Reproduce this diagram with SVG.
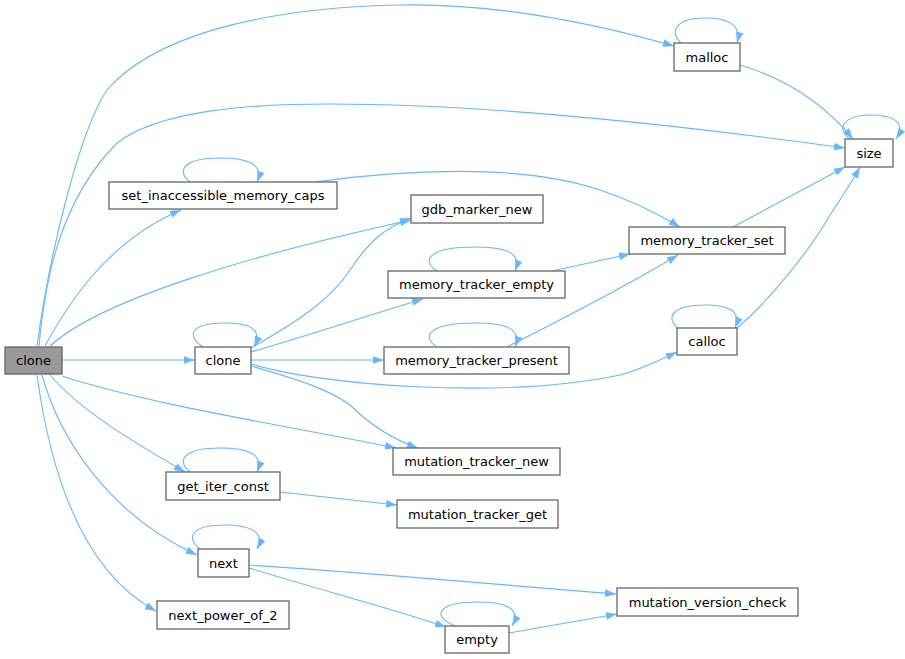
<svg xmlns="http://www.w3.org/2000/svg" width="905" height="659" viewBox="0 0 905 659">
<style>
.n rect{fill:#fff;stroke:#666;stroke-width:1.3}
.n.root rect{fill:#999}
.n text{font-family:"DejaVu Sans","Liberation Sans",sans-serif;font-size:13px;fill:#000;text-anchor:middle}
.e path{fill:none;stroke:#63b8ff;stroke-width:1.1;marker-end:url(#a)}
</style>
<defs>
<marker id="a" viewBox="0 0 10 7" markerWidth="11" markerHeight="8.5" refX="10" refY="3.5" markerUnits="userSpaceOnUse" orient="auto">
<path d="M0,0 L10,3.5 L0,7 z" fill="#63b8ff"/>
</marker>
</defs>
<rect width="905" height="659" fill="#fff"/>
<g id="edges" class="e">
<path d="M37,346 C50,250 80,130 107,90 C150,40 250,8 400,5 C500,3 600,25 674,46"/>
<path d="M39,346 C45,280 60,200 117,143 C160,110 250,104 330,104 C500,104 700,128 845,148"/>
<path d="M45,346 C70,300 110,240 181,210"/>
<path d="M50,346 C100,300 250,255 411,220"/>
<path d="M62,360 L195,360"/>
<path d="M62,376 C150,405 300,428 396,448"/>
<path d="M50,375 C80,410 130,440 185,472"/>
<path d="M42,375 C60,440 110,515 197,555"/>
<path d="M37,375 C50,470 80,570 156,611"/>
<path d="M203,347 C185,335 192,323 225,323 C252,323 262,330 254,347"/>
<path d="M251,348 C300,320 330,300 350,270 C370,240 385,228 411,218"/>
<path d="M251,352 C300,338 360,318 423,299"/>
<path d="M251,360 L384,360"/>
<path d="M251,364 C320,385 500,400 620,375 C640,370 660,360 677,352"/>
<path d="M251,366 C300,380 330,390 350,405 C370,425 395,440 418,448"/>
<path d="M437,271 C420,260 430,247 475,247 C505,247 522,252 515,271"/>
<path d="M552,271 L630,254"/>
<path d="M437,347 C420,336 430,323 475,323 C505,323 522,328 515,347"/>
<path d="M507,347 C560,320 620,290 678,255"/>
<path d="M315,182 C400,170 520,163 600,190 C630,200 655,212 680,227"/>
<path d="M190,182 C175,170 185,158 220,158 C248,158 264,164 257,182"/>
<path d="M681,43 C668,30 678,18 705,18 C727,18 742,24 737,43"/>
<path d="M740,65 C790,80 825,105 853,139"/>
<path d="M850,139 C835,128 845,115 870,115 C893,115 907,122 896,139"/>
<path d="M733,227 L845,167"/>
<path d="M678,328 C665,318 672,305 705,305 C727,305 742,310 735,328"/>
<path d="M737,328 C770,300 810,250 830,215 C840,200 850,185 860,167"/>
<path d="M190,472 C175,460 185,448 220,448 C248,448 264,454 257,472"/>
<path d="M280,492 L397,505"/>
<path d="M200,549 C185,537 192,525 225,525 C250,525 266,532 257,549"/>
<path d="M249,565 C400,575 500,585 616,594"/>
<path d="M249,568 C320,590 390,608 446,627"/>
<path d="M455,626 C428,614 442,602 478,602 C505,602 522,608 512,626"/>
<path d="M509,633 L617,614"/>
</g>
<g id="n_clone_root" class="n root"><rect x="5" y="347" width="57" height="27"/><text x="33.5" y="365">clone</text></g>
<g id="n_clone" class="n"><rect x="195" y="347" width="56" height="27"/><text x="223" y="365">clone</text></g>
<g id="n_set_inaccessible_memory_caps" class="n"><rect x="109" y="182" width="228" height="27"/><text x="223" y="200">set_inaccessible_memory_caps</text></g>
<g id="n_gdb_marker_new" class="n"><rect x="411" y="195" width="132" height="28"/><text x="477" y="213.5">gdb_marker_new</text></g>
<g id="n_memory_tracker_set" class="n"><rect x="629" y="227" width="156" height="27"/><text x="707" y="245">memory_tracker_set</text></g>
<g id="n_memory_tracker_empty" class="n"><rect x="388" y="271" width="177" height="27"/><text x="476.5" y="289">memory_tracker_empty</text></g>
<g id="n_calloc" class="n"><rect x="677" y="328" width="60" height="27"/><text x="707" y="346">calloc</text></g>
<g id="n_memory_tracker_present" class="n"><rect x="384" y="347" width="185" height="27"/><text x="476.5" y="365">memory_tracker_present</text></g>
<g id="n_malloc" class="n"><rect x="674" y="43" width="66" height="28"/><text x="707" y="61.5">malloc</text></g>
<g id="n_size" class="n"><rect x="845" y="139" width="48" height="28"/><text x="869" y="157.5">size</text></g>
<g id="n_get_iter_const" class="n"><rect x="166" y="472" width="114" height="28"/><text x="223" y="490.5">get_iter_const</text></g>
<g id="n_mutation_tracker_new" class="n"><rect x="393" y="448" width="167" height="27"/><text x="476.5" y="466">mutation_tracker_new</text></g>
<g id="n_mutation_tracker_get" class="n"><rect x="397" y="500" width="161" height="28"/><text x="477.5" y="518.5">mutation_tracker_get</text></g>
<g id="n_next" class="n"><rect x="198" y="549" width="51" height="28"/><text x="223.5" y="567.5">next</text></g>
<g id="n_next_power_of_2" class="n"><rect x="157" y="601" width="132" height="28"/><text x="223" y="619.5">next_power_of_2</text></g>
<g id="n_empty" class="n"><rect x="445" y="626" width="64" height="27"/><text x="477" y="644">empty</text></g>
<g id="n_mutation_version_check" class="n"><rect x="617" y="588" width="181" height="28"/><text x="707.5" y="606.5">mutation_version_check</text></g>
</svg>
